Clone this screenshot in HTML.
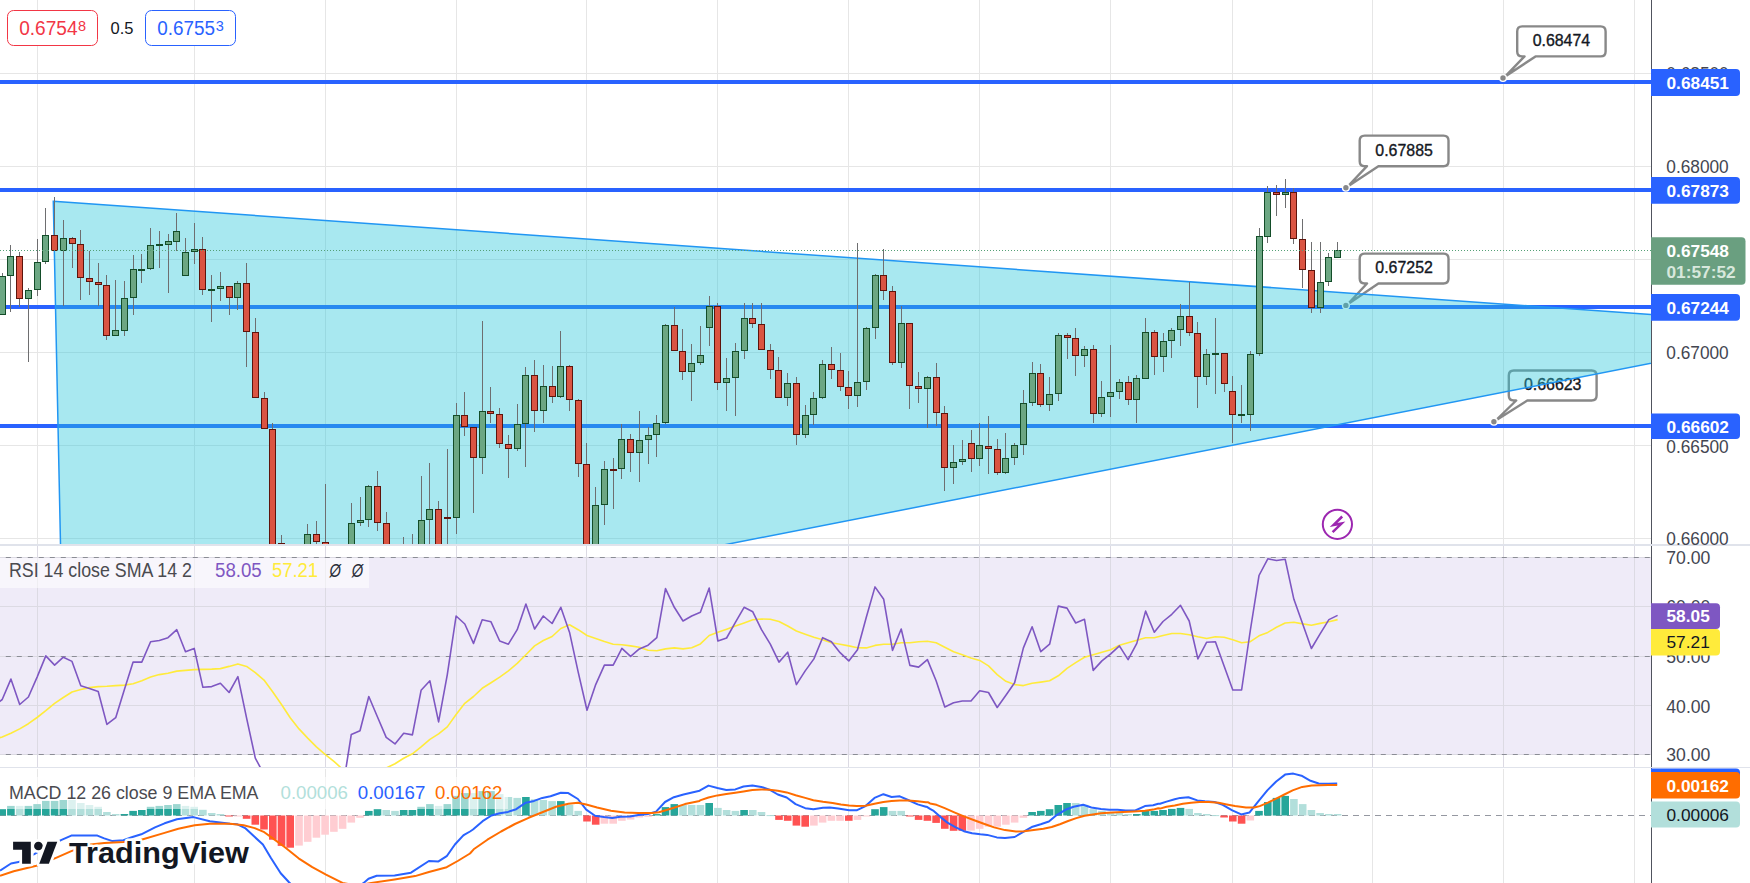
<!DOCTYPE html><html><head><meta charset="utf-8"><style>html,body{margin:0;padding:0;background:#fff;overflow:hidden}svg{display:block;font-family:"Liberation Sans",sans-serif}</style></head><body>
<svg width="1750" height="883" viewBox="0 0 1750 883">
<defs>
<clipPath id="cMain"><rect x="0" y="0" width="1651" height="544"/></clipPath>
<clipPath id="cRsi"><rect x="0" y="546" width="1651" height="221"/></clipPath>
<clipPath id="cMacd"><rect x="0" y="769" width="1651" height="114"/></clipPath>
</defs>
<rect width="1750" height="883" fill="#fff"/>
<g clip-path="url(#cMain)">
<line x1="37.5" y1="0" x2="37.5" y2="544" stroke="#e6e6e6" stroke-width="1"/>
<line x1="194.5" y1="0" x2="194.5" y2="544" stroke="#e6e6e6" stroke-width="1"/>
<line x1="325.5" y1="0" x2="325.5" y2="544" stroke="#e6e6e6" stroke-width="1"/>
<line x1="456.5" y1="0" x2="456.5" y2="544" stroke="#e6e6e6" stroke-width="1"/>
<line x1="586.5" y1="0" x2="586.5" y2="544" stroke="#e6e6e6" stroke-width="1"/>
<line x1="717.5" y1="0" x2="717.5" y2="544" stroke="#e6e6e6" stroke-width="1"/>
<line x1="848.5" y1="0" x2="848.5" y2="544" stroke="#e6e6e6" stroke-width="1"/>
<line x1="979.5" y1="0" x2="979.5" y2="544" stroke="#e6e6e6" stroke-width="1"/>
<line x1="1110.5" y1="0" x2="1110.5" y2="544" stroke="#e6e6e6" stroke-width="1"/>
<line x1="1232.5" y1="0" x2="1232.5" y2="544" stroke="#e6e6e6" stroke-width="1"/>
<line x1="1372.5" y1="0" x2="1372.5" y2="544" stroke="#e6e6e6" stroke-width="1"/>
<line x1="1503.5" y1="0" x2="1503.5" y2="544" stroke="#e6e6e6" stroke-width="1"/>
<line x1="1634.5" y1="0" x2="1634.5" y2="544" stroke="#e6e6e6" stroke-width="1"/>
<line x1="0" y1="73.5" x2="1651" y2="73.5" stroke="#e6e6e6" stroke-width="1"/>
<line x1="0" y1="166.5" x2="1651" y2="166.5" stroke="#e6e6e6" stroke-width="1"/>
<line x1="0" y1="259.5" x2="1651" y2="259.5" stroke="#e6e6e6" stroke-width="1"/>
<line x1="0" y1="352.5" x2="1651" y2="352.5" stroke="#e6e6e6" stroke-width="1"/>
<line x1="0" y1="445.5" x2="1651" y2="445.5" stroke="#e6e6e6" stroke-width="1"/>
<line x1="0" y1="538.5" x2="1651" y2="538.5" stroke="#e6e6e6" stroke-width="1"/>
<rect x="0" y="80" width="1651" height="4" fill="#2962ff"/>
<rect x="0" y="188" width="1651" height="4" fill="#2962ff"/>
<rect x="0" y="305" width="1651" height="4" fill="#2962ff"/>
<rect x="0" y="424" width="1651" height="4" fill="#2962ff"/>
<path d="M1522.2,26.4 H1600.6 Q1605.6,26.4 1605.6,31.4 V51.4 Q1605.6,56.4 1600.6,56.4 H1535.5 L1504.8,76.8 L1524.5,56.4 H1522.2 Q1517.2,56.4 1517.2,51.4 V31.4 Q1517.2,26.4 1522.2,26.4 Z" fill="#fff" stroke="#888" stroke-width="2.4" stroke-linejoin="round"/>
<circle cx="1503" cy="78" r="3.4" fill="#888" stroke="#fff" stroke-width="1.4"/>
<text x="1561.4" y="45.9" font-size="16.5" fill="#131722" stroke="#131722" stroke-width="0.35" text-anchor="middle" textLength="57.5" lengthAdjust="spacingAndGlyphs">0.68474</text>
<path d="M1364.7,135.6 H1443.5 Q1448.5,135.6 1448.5,140.6 V161.2 Q1448.5,166.2 1443.5,166.2 H1378.4 L1347.7,186.5 L1367,166.2 H1364.7 Q1359.7,166.2 1359.7,161.2 V140.6 Q1359.7,135.6 1364.7,135.6 Z" fill="#fff" stroke="#888" stroke-width="2.4" stroke-linejoin="round"/>
<circle cx="1345.9" cy="187.7" r="3.4" fill="#888" stroke="#fff" stroke-width="1.4"/>
<text x="1404.1" y="155.7" font-size="16.5" fill="#131722" stroke="#131722" stroke-width="0.35" text-anchor="middle" textLength="57.5" lengthAdjust="spacingAndGlyphs">0.67885</text>
<path d="M1364.7,253.6 H1443.5 Q1448.5,253.6 1448.5,258.6 V278.5 Q1448.5,283.5 1443.5,283.5 H1378.4 L1347.7,304.2 L1367,283.5 H1364.7 Q1359.7,283.5 1359.7,278.5 V258.6 Q1359.7,253.6 1364.7,253.6 Z" fill="#fff" stroke="#888" stroke-width="2.4" stroke-linejoin="round"/>
<circle cx="1345.9" cy="305.4" r="3.4" fill="#888" stroke="#fff" stroke-width="1.4"/>
<text x="1404.1" y="273.0" font-size="16.5" fill="#131722" stroke="#131722" stroke-width="0.35" text-anchor="middle" textLength="57.5" lengthAdjust="spacingAndGlyphs">0.67252</text>
<path d="M1513.8,370.5 H1591.6 Q1596.6,370.5 1596.6,375.5 V395.5 Q1596.6,400.5 1591.6,400.5 H1527.3 L1495.7,420.5 L1516.2,400.5 H1513.8 Q1508.8,400.5 1508.8,395.5 V375.5 Q1508.8,370.5 1513.8,370.5 Z" fill="#fff" stroke="#888" stroke-width="2.4" stroke-linejoin="round"/>
<circle cx="1493.9" cy="421.7" r="3.4" fill="#888" stroke="#fff" stroke-width="1.4"/>
<text x="1552.6999999999998" y="390.0" font-size="16.5" fill="#131722" stroke="#131722" stroke-width="0.35" text-anchor="middle" textLength="57.5" lengthAdjust="spacingAndGlyphs">0.66623</text>
<path d="M53.3,201.2 L1660,315.14 L1660,361.58 L63.24,674.32 Z" fill="rgba(38,198,218,0.40)" stroke="#2196f3" stroke-width="1.5" stroke-linejoin="miter"/>
<rect x="2" y="273" width="1" height="42" fill="#6e6e70"/>
<rect x="-0.5" y="276.5" width="6" height="38" fill="#6ca783" stroke="#134d29" stroke-width="1"/>
<rect x="10" y="245" width="1" height="67" fill="#6e6e70"/>
<rect x="7.5" y="256.5" width="6" height="19" fill="#6ca783" stroke="#134d29" stroke-width="1"/>
<rect x="19" y="252" width="1" height="55" fill="#6e6e70"/>
<rect x="16.5" y="256.5" width="6" height="42" fill="#da5442" stroke="#5e140c" stroke-width="1"/>
<rect x="28" y="288" width="1" height="74" fill="#6e6e70"/>
<rect x="25.5" y="290.5" width="6" height="8" fill="#6ca783" stroke="#134d29" stroke-width="1"/>
<rect x="37" y="239" width="1" height="57" fill="#6e6e70"/>
<rect x="34.5" y="262.5" width="6" height="27" fill="#6ca783" stroke="#134d29" stroke-width="1"/>
<rect x="45" y="208" width="1" height="56" fill="#6e6e70"/>
<rect x="42.5" y="235.5" width="6" height="26" fill="#6ca783" stroke="#134d29" stroke-width="1"/>
<rect x="54" y="197" width="1" height="54" fill="#6e6e70"/>
<rect x="51.5" y="235.5" width="6" height="15" fill="#da5442" stroke="#5e140c" stroke-width="1"/>
<rect x="63" y="220" width="1" height="86" fill="#6e6e70"/>
<rect x="60.5" y="238.5" width="6" height="12" fill="#6ca783" stroke="#134d29" stroke-width="1"/>
<rect x="72" y="237" width="1" height="31" fill="#6e6e70"/>
<rect x="69.5" y="238.5" width="6" height="5" fill="#da5442" stroke="#5e140c" stroke-width="1"/>
<rect x="80" y="230" width="1" height="70" fill="#6e6e70"/>
<rect x="77.5" y="244.5" width="6" height="33" fill="#da5442" stroke="#5e140c" stroke-width="1"/>
<rect x="89" y="251" width="1" height="44" fill="#6e6e70"/>
<rect x="86.5" y="278.5" width="6" height="3" fill="#da5442" stroke="#5e140c" stroke-width="1"/>
<rect x="98" y="263" width="1" height="43" fill="#6e6e70"/>
<rect x="95.5" y="282.5" width="6" height="2" fill="#da5442" stroke="#5e140c" stroke-width="1"/>
<rect x="106" y="275" width="1" height="65" fill="#6e6e70"/>
<rect x="103.5" y="285.5" width="6" height="50" fill="#da5442" stroke="#5e140c" stroke-width="1"/>
<rect x="115" y="280" width="1" height="56" fill="#6e6e70"/>
<rect x="112.5" y="330.5" width="6" height="5" fill="#6ca783" stroke="#134d29" stroke-width="1"/>
<rect x="124" y="281" width="1" height="55" fill="#6e6e70"/>
<rect x="121.5" y="298.5" width="6" height="32" fill="#6ca783" stroke="#134d29" stroke-width="1"/>
<rect x="133" y="255" width="1" height="60" fill="#6e6e70"/>
<rect x="130.5" y="269.5" width="6" height="28" fill="#6ca783" stroke="#134d29" stroke-width="1"/>
<rect x="141" y="254" width="1" height="29" fill="#6e6e70"/>
<rect x="138" y="269" width="7" height="2" fill="#134d29"/>
<rect x="150" y="228" width="1" height="42" fill="#6e6e70"/>
<rect x="147.5" y="245.5" width="6" height="23" fill="#6ca783" stroke="#134d29" stroke-width="1"/>
<rect x="159" y="231" width="1" height="37" fill="#6e6e70"/>
<rect x="156" y="244" width="7" height="2" fill="#134d29"/>
<rect x="168" y="234" width="1" height="59" fill="#6e6e70"/>
<rect x="165.5" y="241.5" width="6" height="3" fill="#6ca783" stroke="#134d29" stroke-width="1"/>
<rect x="176" y="213" width="1" height="38" fill="#6e6e70"/>
<rect x="173.5" y="231.5" width="6" height="10" fill="#6ca783" stroke="#134d29" stroke-width="1"/>
<rect x="185" y="238" width="1" height="38" fill="#6e6e70"/>
<rect x="182.5" y="252.5" width="6" height="23" fill="#6ca783" stroke="#134d29" stroke-width="1"/>
<rect x="194" y="223" width="1" height="41" fill="#6e6e70"/>
<rect x="191.5" y="249.5" width="6" height="2" fill="#6ca783" stroke="#134d29" stroke-width="1"/>
<rect x="202" y="237" width="1" height="58" fill="#6e6e70"/>
<rect x="199.5" y="249.5" width="6" height="40" fill="#da5442" stroke="#5e140c" stroke-width="1"/>
<rect x="211" y="275" width="1" height="47" fill="#6e6e70"/>
<rect x="208" y="289" width="7" height="2" fill="#134d29"/>
<rect x="220" y="272" width="1" height="29" fill="#6e6e70"/>
<rect x="217.5" y="286.5" width="6" height="2" fill="#6ca783" stroke="#134d29" stroke-width="1"/>
<rect x="229" y="286" width="1" height="29" fill="#6e6e70"/>
<rect x="226.5" y="286.5" width="6" height="11" fill="#da5442" stroke="#5e140c" stroke-width="1"/>
<rect x="237" y="281" width="1" height="29" fill="#6e6e70"/>
<rect x="234.5" y="283.5" width="6" height="14" fill="#6ca783" stroke="#134d29" stroke-width="1"/>
<rect x="246" y="263" width="1" height="104" fill="#6e6e70"/>
<rect x="243.5" y="283.5" width="6" height="48" fill="#da5442" stroke="#5e140c" stroke-width="1"/>
<rect x="255" y="318" width="1" height="80" fill="#6e6e70"/>
<rect x="252.5" y="332.5" width="6" height="65" fill="#da5442" stroke="#5e140c" stroke-width="1"/>
<rect x="264" y="392" width="1" height="37" fill="#6e6e70"/>
<rect x="261.5" y="398.5" width="6" height="30" fill="#da5442" stroke="#5e140c" stroke-width="1"/>
<rect x="272" y="423" width="1" height="128" fill="#6e6e70"/>
<rect x="269.5" y="429.5" width="6" height="121" fill="#da5442" stroke="#5e140c" stroke-width="1"/>
<rect x="281" y="535" width="1" height="16" fill="#6e6e70"/>
<rect x="278.5" y="543.5" width="6" height="7" fill="#da5442" stroke="#5e140c" stroke-width="1"/>
<rect x="307" y="524" width="1" height="27" fill="#6e6e70"/>
<rect x="304.5" y="534.5" width="6" height="16" fill="#6ca783" stroke="#134d29" stroke-width="1"/>
<rect x="316" y="521" width="1" height="30" fill="#6e6e70"/>
<rect x="313.5" y="534.5" width="6" height="7" fill="#da5442" stroke="#5e140c" stroke-width="1"/>
<rect x="325" y="484" width="1" height="67" fill="#6e6e70"/>
<rect x="322.5" y="542.5" width="6" height="8" fill="#da5442" stroke="#5e140c" stroke-width="1"/>
<rect x="351" y="503" width="1" height="46" fill="#6e6e70"/>
<rect x="348.5" y="523.5" width="6" height="25" fill="#6ca783" stroke="#134d29" stroke-width="1"/>
<rect x="360" y="497" width="1" height="29" fill="#6e6e70"/>
<rect x="357.5" y="520.5" width="6" height="2" fill="#6ca783" stroke="#134d29" stroke-width="1"/>
<rect x="368" y="485" width="1" height="42" fill="#6e6e70"/>
<rect x="365.5" y="486.5" width="6" height="33" fill="#6ca783" stroke="#134d29" stroke-width="1"/>
<rect x="377" y="471" width="1" height="60" fill="#6e6e70"/>
<rect x="374.5" y="486.5" width="6" height="36" fill="#da5442" stroke="#5e140c" stroke-width="1"/>
<rect x="386" y="512" width="1" height="37" fill="#6e6e70"/>
<rect x="383.5" y="523.5" width="6" height="25" fill="#da5442" stroke="#5e140c" stroke-width="1"/>
<rect x="403" y="537" width="1" height="12" fill="#6e6e70"/>
<rect x="400" y="549" width="7" height="2" fill="#5e140c"/>
<rect x="412" y="534" width="1" height="15" fill="#6e6e70"/>
<rect x="409" y="549" width="7" height="2" fill="#5e140c"/>
<rect x="421" y="476" width="1" height="73" fill="#6e6e70"/>
<rect x="418.5" y="520.5" width="6" height="28" fill="#6ca783" stroke="#134d29" stroke-width="1"/>
<rect x="429" y="463" width="1" height="86" fill="#6e6e70"/>
<rect x="426.5" y="509.5" width="6" height="10" fill="#6ca783" stroke="#134d29" stroke-width="1"/>
<rect x="438" y="501" width="1" height="48" fill="#6e6e70"/>
<rect x="435.5" y="509.5" width="6" height="39" fill="#da5442" stroke="#5e140c" stroke-width="1"/>
<rect x="447" y="449" width="1" height="100" fill="#6e6e70"/>
<rect x="444" y="517" width="7" height="2" fill="#5e140c"/>
<rect x="456" y="403" width="1" height="131" fill="#6e6e70"/>
<rect x="453.5" y="415.5" width="6" height="102" fill="#6ca783" stroke="#134d29" stroke-width="1"/>
<rect x="464" y="392" width="1" height="44" fill="#6e6e70"/>
<rect x="461.5" y="415.5" width="6" height="11" fill="#da5442" stroke="#5e140c" stroke-width="1"/>
<rect x="473" y="427" width="1" height="86" fill="#6e6e70"/>
<rect x="470.5" y="427.5" width="6" height="30" fill="#da5442" stroke="#5e140c" stroke-width="1"/>
<rect x="482" y="321" width="1" height="153" fill="#6e6e70"/>
<rect x="479.5" y="411.5" width="6" height="46" fill="#6ca783" stroke="#134d29" stroke-width="1"/>
<rect x="490" y="387" width="1" height="36" fill="#6e6e70"/>
<rect x="487.5" y="411.5" width="6" height="2" fill="#da5442" stroke="#5e140c" stroke-width="1"/>
<rect x="499" y="408" width="1" height="40" fill="#6e6e70"/>
<rect x="496.5" y="414.5" width="6" height="29" fill="#da5442" stroke="#5e140c" stroke-width="1"/>
<rect x="508" y="435" width="1" height="43" fill="#6e6e70"/>
<rect x="505.5" y="444.5" width="6" height="4" fill="#da5442" stroke="#5e140c" stroke-width="1"/>
<rect x="517" y="404" width="1" height="47" fill="#6e6e70"/>
<rect x="514.5" y="424.5" width="6" height="24" fill="#6ca783" stroke="#134d29" stroke-width="1"/>
<rect x="525" y="367" width="1" height="100" fill="#6e6e70"/>
<rect x="522.5" y="375.5" width="6" height="48" fill="#6ca783" stroke="#134d29" stroke-width="1"/>
<rect x="534" y="360" width="1" height="72" fill="#6e6e70"/>
<rect x="531.5" y="375.5" width="6" height="35" fill="#da5442" stroke="#5e140c" stroke-width="1"/>
<rect x="543" y="365" width="1" height="58" fill="#6e6e70"/>
<rect x="540.5" y="386.5" width="6" height="24" fill="#6ca783" stroke="#134d29" stroke-width="1"/>
<rect x="552" y="366" width="1" height="37" fill="#6e6e70"/>
<rect x="549.5" y="386.5" width="6" height="10" fill="#da5442" stroke="#5e140c" stroke-width="1"/>
<rect x="560" y="331" width="1" height="67" fill="#6e6e70"/>
<rect x="557.5" y="366.5" width="6" height="30" fill="#6ca783" stroke="#134d29" stroke-width="1"/>
<rect x="569" y="365" width="1" height="46" fill="#6e6e70"/>
<rect x="566.5" y="366.5" width="6" height="33" fill="#da5442" stroke="#5e140c" stroke-width="1"/>
<rect x="578" y="399" width="1" height="78" fill="#6e6e70"/>
<rect x="575.5" y="400.5" width="6" height="63" fill="#da5442" stroke="#5e140c" stroke-width="1"/>
<rect x="586" y="443" width="1" height="107" fill="#6e6e70"/>
<rect x="583.5" y="464.5" width="6" height="85" fill="#da5442" stroke="#5e140c" stroke-width="1"/>
<rect x="595" y="487" width="1" height="63" fill="#6e6e70"/>
<rect x="592.5" y="505.5" width="6" height="44" fill="#6ca783" stroke="#134d29" stroke-width="1"/>
<rect x="604" y="461" width="1" height="64" fill="#6e6e70"/>
<rect x="601.5" y="469.5" width="6" height="35" fill="#6ca783" stroke="#134d29" stroke-width="1"/>
<rect x="613" y="458" width="1" height="51" fill="#6e6e70"/>
<rect x="610" y="469" width="7" height="2" fill="#5e140c"/>
<rect x="621" y="424" width="1" height="55" fill="#6e6e70"/>
<rect x="618.5" y="439.5" width="6" height="29" fill="#6ca783" stroke="#134d29" stroke-width="1"/>
<rect x="630" y="434" width="1" height="38" fill="#6e6e70"/>
<rect x="627.5" y="439.5" width="6" height="13" fill="#da5442" stroke="#5e140c" stroke-width="1"/>
<rect x="639" y="411" width="1" height="71" fill="#6e6e70"/>
<rect x="636.5" y="440.5" width="6" height="12" fill="#6ca783" stroke="#134d29" stroke-width="1"/>
<rect x="648" y="427" width="1" height="37" fill="#6e6e70"/>
<rect x="645.5" y="435.5" width="6" height="4" fill="#6ca783" stroke="#134d29" stroke-width="1"/>
<rect x="656" y="415" width="1" height="42" fill="#6e6e70"/>
<rect x="653.5" y="423.5" width="6" height="11" fill="#6ca783" stroke="#134d29" stroke-width="1"/>
<rect x="665" y="324" width="1" height="100" fill="#6e6e70"/>
<rect x="662.5" y="325.5" width="6" height="97" fill="#6ca783" stroke="#134d29" stroke-width="1"/>
<rect x="674" y="307" width="1" height="44" fill="#6e6e70"/>
<rect x="671.5" y="325.5" width="6" height="25" fill="#da5442" stroke="#5e140c" stroke-width="1"/>
<rect x="682" y="329" width="1" height="51" fill="#6e6e70"/>
<rect x="679.5" y="351.5" width="6" height="20" fill="#da5442" stroke="#5e140c" stroke-width="1"/>
<rect x="691" y="344" width="1" height="57" fill="#6e6e70"/>
<rect x="688.5" y="363.5" width="6" height="8" fill="#6ca783" stroke="#134d29" stroke-width="1"/>
<rect x="700" y="326" width="1" height="39" fill="#6e6e70"/>
<rect x="697.5" y="355.5" width="6" height="7" fill="#6ca783" stroke="#134d29" stroke-width="1"/>
<rect x="709" y="296" width="1" height="50" fill="#6e6e70"/>
<rect x="706.5" y="306.5" width="6" height="21" fill="#6ca783" stroke="#134d29" stroke-width="1"/>
<rect x="717" y="303" width="1" height="87" fill="#6e6e70"/>
<rect x="714.5" y="306.5" width="6" height="76" fill="#da5442" stroke="#5e140c" stroke-width="1"/>
<rect x="726" y="358" width="1" height="53" fill="#6e6e70"/>
<rect x="723.5" y="378.5" width="6" height="4" fill="#6ca783" stroke="#134d29" stroke-width="1"/>
<rect x="735" y="343" width="1" height="73" fill="#6e6e70"/>
<rect x="732.5" y="351.5" width="6" height="26" fill="#6ca783" stroke="#134d29" stroke-width="1"/>
<rect x="744" y="303" width="1" height="56" fill="#6e6e70"/>
<rect x="741.5" y="318.5" width="6" height="32" fill="#6ca783" stroke="#134d29" stroke-width="1"/>
<rect x="752" y="303" width="1" height="25" fill="#6e6e70"/>
<rect x="749.5" y="318.5" width="6" height="5" fill="#da5442" stroke="#5e140c" stroke-width="1"/>
<rect x="761" y="303" width="1" height="47" fill="#6e6e70"/>
<rect x="758.5" y="324.5" width="6" height="25" fill="#da5442" stroke="#5e140c" stroke-width="1"/>
<rect x="770" y="344" width="1" height="35" fill="#6e6e70"/>
<rect x="767.5" y="350.5" width="6" height="19" fill="#da5442" stroke="#5e140c" stroke-width="1"/>
<rect x="778" y="357" width="1" height="41" fill="#6e6e70"/>
<rect x="775.5" y="370.5" width="6" height="27" fill="#da5442" stroke="#5e140c" stroke-width="1"/>
<rect x="787" y="373" width="1" height="33" fill="#6e6e70"/>
<rect x="784.5" y="383.5" width="6" height="14" fill="#6ca783" stroke="#134d29" stroke-width="1"/>
<rect x="796" y="377" width="1" height="68" fill="#6e6e70"/>
<rect x="793.5" y="383.5" width="6" height="51" fill="#da5442" stroke="#5e140c" stroke-width="1"/>
<rect x="805" y="405" width="1" height="33" fill="#6e6e70"/>
<rect x="802.5" y="415.5" width="6" height="19" fill="#6ca783" stroke="#134d29" stroke-width="1"/>
<rect x="813" y="392" width="1" height="33" fill="#6e6e70"/>
<rect x="810.5" y="398.5" width="6" height="16" fill="#6ca783" stroke="#134d29" stroke-width="1"/>
<rect x="822" y="360" width="1" height="39" fill="#6e6e70"/>
<rect x="819.5" y="364.5" width="6" height="33" fill="#6ca783" stroke="#134d29" stroke-width="1"/>
<rect x="831" y="347" width="1" height="32" fill="#6e6e70"/>
<rect x="828.5" y="364.5" width="6" height="5" fill="#da5442" stroke="#5e140c" stroke-width="1"/>
<rect x="840" y="353" width="1" height="38" fill="#6e6e70"/>
<rect x="837.5" y="370.5" width="6" height="16" fill="#da5442" stroke="#5e140c" stroke-width="1"/>
<rect x="848" y="371" width="1" height="38" fill="#6e6e70"/>
<rect x="845.5" y="387.5" width="6" height="8" fill="#da5442" stroke="#5e140c" stroke-width="1"/>
<rect x="857" y="243" width="1" height="164" fill="#6e6e70"/>
<rect x="854.5" y="382.5" width="6" height="13" fill="#6ca783" stroke="#134d29" stroke-width="1"/>
<rect x="866" y="327" width="1" height="63" fill="#6e6e70"/>
<rect x="863.5" y="328.5" width="6" height="53" fill="#6ca783" stroke="#134d29" stroke-width="1"/>
<rect x="875" y="274" width="1" height="65" fill="#6e6e70"/>
<rect x="872.5" y="275.5" width="6" height="52" fill="#6ca783" stroke="#134d29" stroke-width="1"/>
<rect x="883" y="249" width="1" height="51" fill="#6e6e70"/>
<rect x="880.5" y="275.5" width="6" height="15" fill="#da5442" stroke="#5e140c" stroke-width="1"/>
<rect x="892" y="286" width="1" height="79" fill="#6e6e70"/>
<rect x="889.5" y="291.5" width="6" height="71" fill="#da5442" stroke="#5e140c" stroke-width="1"/>
<rect x="901" y="306" width="1" height="62" fill="#6e6e70"/>
<rect x="898.5" y="323.5" width="6" height="39" fill="#6ca783" stroke="#134d29" stroke-width="1"/>
<rect x="909" y="323" width="1" height="86" fill="#6e6e70"/>
<rect x="906.5" y="323.5" width="6" height="62" fill="#da5442" stroke="#5e140c" stroke-width="1"/>
<rect x="918" y="372" width="1" height="31" fill="#6e6e70"/>
<rect x="915.5" y="386.5" width="6" height="2" fill="#da5442" stroke="#5e140c" stroke-width="1"/>
<rect x="927" y="376" width="1" height="52" fill="#6e6e70"/>
<rect x="924.5" y="377.5" width="6" height="11" fill="#6ca783" stroke="#134d29" stroke-width="1"/>
<rect x="936" y="363" width="1" height="63" fill="#6e6e70"/>
<rect x="933.5" y="377.5" width="6" height="35" fill="#da5442" stroke="#5e140c" stroke-width="1"/>
<rect x="944" y="406" width="1" height="85" fill="#6e6e70"/>
<rect x="941.5" y="413.5" width="6" height="54" fill="#da5442" stroke="#5e140c" stroke-width="1"/>
<rect x="953" y="445" width="1" height="39" fill="#6e6e70"/>
<rect x="950.5" y="462.5" width="6" height="5" fill="#6ca783" stroke="#134d29" stroke-width="1"/>
<rect x="962" y="440" width="1" height="25" fill="#6e6e70"/>
<rect x="959.5" y="459.5" width="6" height="2" fill="#6ca783" stroke="#134d29" stroke-width="1"/>
<rect x="971" y="430" width="1" height="42" fill="#6e6e70"/>
<rect x="968.5" y="443.5" width="6" height="15" fill="#da5442" stroke="#5e140c" stroke-width="1"/>
<rect x="979" y="423" width="1" height="43" fill="#6e6e70"/>
<rect x="976.5" y="445.5" width="6" height="13" fill="#6ca783" stroke="#134d29" stroke-width="1"/>
<rect x="988" y="416" width="1" height="58" fill="#6e6e70"/>
<rect x="985.5" y="446.5" width="6" height="2" fill="#da5442" stroke="#5e140c" stroke-width="1"/>
<rect x="997" y="439" width="1" height="36" fill="#6e6e70"/>
<rect x="994.5" y="449.5" width="6" height="23" fill="#da5442" stroke="#5e140c" stroke-width="1"/>
<rect x="1005" y="433" width="1" height="41" fill="#6e6e70"/>
<rect x="1002.5" y="458.5" width="6" height="14" fill="#6ca783" stroke="#134d29" stroke-width="1"/>
<rect x="1014" y="443" width="1" height="22" fill="#6e6e70"/>
<rect x="1011.5" y="445.5" width="6" height="12" fill="#6ca783" stroke="#134d29" stroke-width="1"/>
<rect x="1023" y="390" width="1" height="65" fill="#6e6e70"/>
<rect x="1020.5" y="403.5" width="6" height="41" fill="#6ca783" stroke="#134d29" stroke-width="1"/>
<rect x="1032" y="362" width="1" height="44" fill="#6e6e70"/>
<rect x="1029.5" y="373.5" width="6" height="29" fill="#6ca783" stroke="#134d29" stroke-width="1"/>
<rect x="1040" y="364" width="1" height="43" fill="#6e6e70"/>
<rect x="1037.5" y="373.5" width="6" height="31" fill="#da5442" stroke="#5e140c" stroke-width="1"/>
<rect x="1049" y="377" width="1" height="34" fill="#6e6e70"/>
<rect x="1046.5" y="394.5" width="6" height="10" fill="#6ca783" stroke="#134d29" stroke-width="1"/>
<rect x="1058" y="333" width="1" height="68" fill="#6e6e70"/>
<rect x="1055.5" y="335.5" width="6" height="58" fill="#6ca783" stroke="#134d29" stroke-width="1"/>
<rect x="1067" y="333" width="1" height="26" fill="#6e6e70"/>
<rect x="1064.5" y="335.5" width="6" height="2" fill="#da5442" stroke="#5e140c" stroke-width="1"/>
<rect x="1075" y="328" width="1" height="48" fill="#6e6e70"/>
<rect x="1072.5" y="338.5" width="6" height="17" fill="#da5442" stroke="#5e140c" stroke-width="1"/>
<rect x="1084" y="346" width="1" height="21" fill="#6e6e70"/>
<rect x="1081.5" y="349.5" width="6" height="6" fill="#6ca783" stroke="#134d29" stroke-width="1"/>
<rect x="1093" y="345" width="1" height="78" fill="#6e6e70"/>
<rect x="1090.5" y="349.5" width="6" height="64" fill="#da5442" stroke="#5e140c" stroke-width="1"/>
<rect x="1101" y="381" width="1" height="36" fill="#6e6e70"/>
<rect x="1098.5" y="397.5" width="6" height="16" fill="#6ca783" stroke="#134d29" stroke-width="1"/>
<rect x="1110" y="345" width="1" height="72" fill="#6e6e70"/>
<rect x="1107.5" y="392.5" width="6" height="4" fill="#6ca783" stroke="#134d29" stroke-width="1"/>
<rect x="1119" y="379" width="1" height="20" fill="#6e6e70"/>
<rect x="1116.5" y="382.5" width="6" height="9" fill="#6ca783" stroke="#134d29" stroke-width="1"/>
<rect x="1128" y="376" width="1" height="29" fill="#6e6e70"/>
<rect x="1125.5" y="382.5" width="6" height="17" fill="#da5442" stroke="#5e140c" stroke-width="1"/>
<rect x="1136" y="375" width="1" height="48" fill="#6e6e70"/>
<rect x="1133.5" y="378.5" width="6" height="21" fill="#6ca783" stroke="#134d29" stroke-width="1"/>
<rect x="1145" y="318" width="1" height="61" fill="#6e6e70"/>
<rect x="1142.5" y="332.5" width="6" height="46" fill="#6ca783" stroke="#134d29" stroke-width="1"/>
<rect x="1154" y="330" width="1" height="45" fill="#6e6e70"/>
<rect x="1151.5" y="332.5" width="6" height="24" fill="#da5442" stroke="#5e140c" stroke-width="1"/>
<rect x="1163" y="333" width="1" height="39" fill="#6e6e70"/>
<rect x="1160.5" y="341.5" width="6" height="15" fill="#6ca783" stroke="#134d29" stroke-width="1"/>
<rect x="1171" y="328" width="1" height="30" fill="#6e6e70"/>
<rect x="1168.5" y="330.5" width="6" height="10" fill="#6ca783" stroke="#134d29" stroke-width="1"/>
<rect x="1180" y="304" width="1" height="42" fill="#6e6e70"/>
<rect x="1177.5" y="316.5" width="6" height="13" fill="#6ca783" stroke="#134d29" stroke-width="1"/>
<rect x="1189" y="282" width="1" height="54" fill="#6e6e70"/>
<rect x="1186.5" y="316.5" width="6" height="16" fill="#da5442" stroke="#5e140c" stroke-width="1"/>
<rect x="1197" y="322" width="1" height="86" fill="#6e6e70"/>
<rect x="1194.5" y="333.5" width="6" height="43" fill="#da5442" stroke="#5e140c" stroke-width="1"/>
<rect x="1206" y="349" width="1" height="36" fill="#6e6e70"/>
<rect x="1203.5" y="354.5" width="6" height="22" fill="#6ca783" stroke="#134d29" stroke-width="1"/>
<rect x="1215" y="318" width="1" height="76" fill="#6e6e70"/>
<rect x="1212" y="353" width="7" height="2" fill="#134d29"/>
<rect x="1224" y="353" width="1" height="39" fill="#6e6e70"/>
<rect x="1221.5" y="353.5" width="6" height="30" fill="#da5442" stroke="#5e140c" stroke-width="1"/>
<rect x="1232" y="376" width="1" height="67" fill="#6e6e70"/>
<rect x="1229.5" y="391.5" width="6" height="23" fill="#da5442" stroke="#5e140c" stroke-width="1"/>
<rect x="1241" y="385" width="1" height="38" fill="#6e6e70"/>
<rect x="1238" y="414" width="7" height="2" fill="#134d29"/>
<rect x="1250" y="351" width="1" height="80" fill="#6e6e70"/>
<rect x="1247.5" y="354.5" width="6" height="60" fill="#6ca783" stroke="#134d29" stroke-width="1"/>
<rect x="1259" y="228" width="1" height="128" fill="#6e6e70"/>
<rect x="1256.5" y="236.5" width="6" height="117" fill="#6ca783" stroke="#134d29" stroke-width="1"/>
<rect x="1267" y="186" width="1" height="57" fill="#6e6e70"/>
<rect x="1264.5" y="192.5" width="6" height="44" fill="#6ca783" stroke="#134d29" stroke-width="1"/>
<rect x="1276" y="185" width="1" height="31" fill="#6e6e70"/>
<rect x="1273.5" y="192.5" width="6" height="2" fill="#da5442" stroke="#5e140c" stroke-width="1"/>
<rect x="1285" y="179" width="1" height="29" fill="#6e6e70"/>
<rect x="1282.5" y="192.5" width="6" height="2" fill="#6ca783" stroke="#134d29" stroke-width="1"/>
<rect x="1293" y="188" width="1" height="56" fill="#6e6e70"/>
<rect x="1290.5" y="192.5" width="6" height="46" fill="#da5442" stroke="#5e140c" stroke-width="1"/>
<rect x="1302" y="219" width="1" height="69" fill="#6e6e70"/>
<rect x="1299.5" y="239.5" width="6" height="30" fill="#da5442" stroke="#5e140c" stroke-width="1"/>
<rect x="1311" y="242" width="1" height="71" fill="#6e6e70"/>
<rect x="1308.5" y="270.5" width="6" height="37" fill="#da5442" stroke="#5e140c" stroke-width="1"/>
<rect x="1320" y="242" width="1" height="71" fill="#6e6e70"/>
<rect x="1317.5" y="282.5" width="6" height="25" fill="#6ca783" stroke="#134d29" stroke-width="1"/>
<rect x="1328" y="253" width="1" height="33" fill="#6e6e70"/>
<rect x="1325.5" y="257.5" width="6" height="24" fill="#6ca783" stroke="#134d29" stroke-width="1"/>
<rect x="1337" y="242" width="1" height="16" fill="#6e6e70"/>
<rect x="1334.5" y="250.5" width="6" height="7" fill="#6ca783" stroke="#134d29" stroke-width="1"/>
<line x1="0" y1="250.5" x2="1651" y2="250.5" stroke="#55a077" stroke-width="1" stroke-dasharray="1 2"/>
<g transform="translate(1337.4,524.3)"><circle r="14.6" fill="#fff" stroke="#9c27b0" stroke-width="2"/><path d="M4.8,-7.8 L-3.9,0.75 L4.1,-0.75 L-4.8,7.8" fill="none" stroke="#9c27b0" stroke-width="2.5" stroke-linejoin="miter" stroke-miterlimit="8"/></g>
</g>
<rect x="7.5" y="10.5" width="90" height="35" rx="6" fill="#fff" stroke="#f23645" stroke-width="1"/>
<text x="19.2" y="35" font-size="19.5" fill="#f23645" textLength="58.3" lengthAdjust="spacingAndGlyphs">0.6754</text>
<text x="78" y="30.6" font-size="14.5" fill="#f23645">8</text>
<text x="110.5" y="33.9" font-size="16.5" fill="#131722">0.5</text>
<rect x="145.5" y="10.5" width="90" height="35" rx="6" fill="#fff" stroke="#2962ff" stroke-width="1"/>
<text x="157.3" y="35" font-size="19.5" fill="#2962ff" textLength="57.8" lengthAdjust="spacingAndGlyphs">0.6755</text>
<text x="215.8" y="30.6" font-size="14.5" fill="#2962ff">3</text>
<rect x="0" y="544" width="1750" height="2" fill="#e0e3eb"/>
<rect x="0" y="767" width="1750" height="1" fill="#e0e3eb"/>
<g clip-path="url(#cRsi)">
<rect x="0" y="557" width="1651" height="197.5" fill="#efebf8"/>
<line x1="37.5" y1="546" x2="37.5" y2="767" stroke="#dcdae3" stroke-width="1"/>
<line x1="194.5" y1="546" x2="194.5" y2="767" stroke="#dcdae3" stroke-width="1"/>
<line x1="325.5" y1="546" x2="325.5" y2="767" stroke="#dcdae3" stroke-width="1"/>
<line x1="456.5" y1="546" x2="456.5" y2="767" stroke="#dcdae3" stroke-width="1"/>
<line x1="586.5" y1="546" x2="586.5" y2="767" stroke="#dcdae3" stroke-width="1"/>
<line x1="717.5" y1="546" x2="717.5" y2="767" stroke="#dcdae3" stroke-width="1"/>
<line x1="848.5" y1="546" x2="848.5" y2="767" stroke="#dcdae3" stroke-width="1"/>
<line x1="979.5" y1="546" x2="979.5" y2="767" stroke="#dcdae3" stroke-width="1"/>
<line x1="1110.5" y1="546" x2="1110.5" y2="767" stroke="#dcdae3" stroke-width="1"/>
<line x1="1232.5" y1="546" x2="1232.5" y2="767" stroke="#dcdae3" stroke-width="1"/>
<line x1="1372.5" y1="546" x2="1372.5" y2="767" stroke="#dcdae3" stroke-width="1"/>
<line x1="1503.5" y1="546" x2="1503.5" y2="767" stroke="#dcdae3" stroke-width="1"/>
<line x1="1634.5" y1="546" x2="1634.5" y2="767" stroke="#dcdae3" stroke-width="1"/>
<line x1="0" y1="557.5" x2="1651" y2="557.5" stroke="#dcdae3" stroke-width="1"/>
<line x1="0" y1="606.5" x2="1651" y2="606.5" stroke="#dcdae3" stroke-width="1"/>
<line x1="0" y1="656.5" x2="1651" y2="656.5" stroke="#dcdae3" stroke-width="1"/>
<line x1="0" y1="705.5" x2="1651" y2="705.5" stroke="#dcdae3" stroke-width="1"/>
<line x1="0" y1="754.5" x2="1651" y2="754.5" stroke="#dcdae3" stroke-width="1"/>
<line x1="0" y1="557.5" x2="1651" y2="557.5" stroke="#8b8d95" stroke-width="1.1" stroke-dasharray="5 6" stroke-dashoffset="5.2"/>
<line x1="0" y1="656.5" x2="1651" y2="656.5" stroke="#8b8d95" stroke-width="1.1" stroke-dasharray="5 6" stroke-dashoffset="5.2"/>
<line x1="0" y1="754.5" x2="1651" y2="754.5" stroke="#8b8d95" stroke-width="1.1" stroke-dasharray="5 6" stroke-dashoffset="5.2"/>
<polyline points="-2,738.4 2.2,736.9 10.9,733.2 19.7,728.9 28.4,723.7 37.1,717.5 45.8,710.7 54.6,703.3 63.3,697.5 72.0,692.0 80.8,689.5 89.5,687.6 98.2,686.6 106.9,686.3 115.7,685.6 124.4,685.1 133.1,683.8 141.8,680.8 150.6,677.1 159.3,674.6 168.0,673.3 176.8,671.1 185.5,670.4 194.2,669.6 202.9,669.4 211.7,669.1 220.4,668.6 229.1,666.4 237.9,663.9 246.6,666.4 255.3,672.6 264.0,680.1 272.8,692.0 281.5,704.5 290.2,717.7 299.0,728.9 307.7,738.1 316.4,746.9 325.1,754.3 333.9,761.3 342.6,769.3 351.3,775.5 360.0,778.8 368.8,776.8 377.5,773.0 386.2,768.0 395.0,763.8 403.7,758.3 412.4,753.8 421.1,746.9 429.9,739.4 438.6,733.9 447.3,726.9 456.1,714.5 464.8,703.3 473.5,696.5 482.2,688.3 491.0,682.8 499.7,677.1 508.4,670.9 517.2,663.4 525.9,654.7 534.6,645.9 543.3,640.5 552.1,636.5 560.8,628.5 569.5,624.8 578.2,629.7 587.0,635.5 595.7,638.5 604.4,641.5 613.2,644.2 621.9,644.7 630.6,645.9 639.3,647.2 648.1,650.2 656.8,650.7 665.5,648.9 674.3,647.9 683.0,648.9 691.7,647.7 700.4,643.9 709.2,635.5 717.9,632.2 726.6,629.2 735.4,626.0 744.1,623.0 752.8,619.8 761.5,619.0 770.3,619.3 779.0,621.5 787.7,626.0 796.4,631.0 805.2,634.2 813.9,637.2 822.6,639.7 831.4,642.7 840.1,644.2 848.8,645.9 857.5,647.7 866.3,647.9 875.0,645.4 883.7,644.2 892.5,644.2 901.2,642.7 909.9,642.7 918.6,641.7 927.4,641.2 936.1,642.7 944.8,647.2 953.6,651.7 962.3,654.7 971.0,657.9 979.7,660.4 988.5,665.9 997.2,674.6 1005.9,681.3 1014.6,684.6 1023.4,685.6 1032.1,683.3 1040.8,682.1 1049.6,680.8 1058.3,675.8 1067.0,668.4 1075.7,662.6 1084.5,657.2 1093.2,654.7 1101.9,652.2 1110.7,649.7 1119.4,645.2 1128.1,642.7 1136.8,640.2 1145.6,637.7 1154.3,637.7 1163.0,635.5 1171.8,633.5 1180.5,633.5 1189.2,634.7 1197.9,636.7 1206.7,638.5 1215.4,636.7 1224.1,637.2 1232.8,639.7 1241.6,642.7 1250.3,641.7 1259.0,635.8 1267.8,632.4 1276.5,627.3 1285.2,623.0 1293.9,622.2 1302.7,623.9 1311.4,625.2 1320.1,623.4 1328.9,621.7 1337.6,619.6" fill="none" stroke="#ffeb3b" stroke-width="1.6" stroke-linejoin="round"/>
<polyline points="-3,703.5 2.2,699.5 10.9,679.1 19.7,704.5 28.4,697.0 37.1,677.1 45.8,655.9 54.6,665.1 63.3,657.2 72.0,661.4 80.8,685.8 89.5,688.5 98.2,691.5 106.9,724.4 115.7,717.7 124.4,689.5 133.1,662.1 141.8,662.1 150.6,641.7 159.3,640.5 168.0,637.7 176.8,629.7 185.5,651.7 194.2,648.4 202.9,687.3 211.7,686.6 220.4,683.3 229.1,692.5 237.9,676.6 246.6,718.2 255.3,758.1 264.0,774.3 272.8,786.7 281.5,794.2 290.2,796.7 299.0,799.2 307.7,799.2 316.4,799.2 325.1,796.7 333.9,793.0 342.6,789.5 351.3,734.4 360.0,730.7 368.8,696.5 377.5,717.0 386.2,737.4 395.0,743.9 403.7,733.2 412.4,734.9 421.1,690.3 429.9,680.8 438.6,721.9 447.3,674.6 456.1,616.0 464.8,624.0 473.5,643.4 482.2,619.8 491.0,621.8 499.7,641.0 508.4,644.2 517.2,629.7 525.9,604.1 534.6,629.0 543.3,616.0 552.1,623.5 560.8,607.3 569.5,632.2 578.2,672.1 587.0,710.2 595.7,684.6 604.4,665.1 613.2,665.1 621.9,648.4 630.6,656.4 639.3,648.9 648.1,645.2 656.8,637.7 665.5,588.6 674.3,607.3 683.0,621.0 691.7,616.0 700.4,612.3 709.2,588.1 717.9,641.0 726.6,638.0 735.4,622.3 744.1,607.3 752.8,611.8 761.5,629.7 770.3,644.2 779.0,662.1 787.7,652.2 796.4,684.6 805.2,670.9 813.9,658.9 822.6,637.7 831.4,641.7 840.1,652.7 848.8,660.9 857.5,649.7 866.3,617.3 875.0,586.9 883.7,599.3 892.5,650.4 901.2,629.0 909.9,665.4 918.6,667.1 927.4,659.6 936.1,680.8 944.8,707.0 953.6,702.8 962.3,701.0 971.0,701.0 979.7,690.8 988.5,692.5 997.2,707.5 1005.9,695.3 1014.6,682.8 1023.4,647.9 1032.1,626.8 1040.8,651.7 1049.6,644.2 1058.3,606.1 1067.0,608.1 1075.7,623.0 1084.5,619.3 1093.2,670.4 1101.9,660.9 1110.7,653.9 1119.4,645.9 1128.1,659.6 1136.8,643.4 1145.6,611.1 1154.3,632.2 1163.0,621.5 1171.8,614.3 1180.5,605.3 1189.2,621.0 1197.9,658.9 1206.7,642.2 1215.4,641.7 1224.1,665.9 1232.8,690.0 1241.6,690.0 1250.3,630.5 1259.0,575.5 1267.8,558.8 1276.5,560.5 1285.2,559.3 1293.9,599.3 1302.7,624.1 1311.4,648.5 1320.1,633.9 1328.9,619.6 1337.6,615.4" fill="none" stroke="#7e57c2" stroke-width="1.6" stroke-linejoin="round"/>
<rect x="0" y="558" width="369" height="30" fill="rgba(255,255,255,0.55)"/>
<text x="9" y="576.7" font-size="19.3" fill="#4a4a4f" textLength="183" lengthAdjust="spacingAndGlyphs">RSI 14 close SMA 14 2</text>
<text x="215" y="576.7" font-size="19.3" fill="#7e57c2" textLength="46.7" lengthAdjust="spacingAndGlyphs">58.05</text>
<text x="271.9" y="576.7" font-size="19.3" fill="#ffeb3b" textLength="46.2" lengthAdjust="spacingAndGlyphs">57.21</text>
<text x="329.6" y="576.7" font-size="19" fill="#2a2e39" font-style="italic" textLength="11.4" lengthAdjust="spacingAndGlyphs">Ø</text>
<text x="351.8" y="576.7" font-size="19" fill="#2a2e39" font-style="italic" textLength="11.4" lengthAdjust="spacingAndGlyphs">Ø</text>
</g>
<g clip-path="url(#cMacd)">
<line x1="37.5" y1="769" x2="37.5" y2="883" stroke="#e6e6e6" stroke-width="1"/>
<line x1="194.5" y1="769" x2="194.5" y2="883" stroke="#e6e6e6" stroke-width="1"/>
<line x1="325.5" y1="769" x2="325.5" y2="883" stroke="#e6e6e6" stroke-width="1"/>
<line x1="456.5" y1="769" x2="456.5" y2="883" stroke="#e6e6e6" stroke-width="1"/>
<line x1="586.5" y1="769" x2="586.5" y2="883" stroke="#e6e6e6" stroke-width="1"/>
<line x1="717.5" y1="769" x2="717.5" y2="883" stroke="#e6e6e6" stroke-width="1"/>
<line x1="848.5" y1="769" x2="848.5" y2="883" stroke="#e6e6e6" stroke-width="1"/>
<line x1="979.5" y1="769" x2="979.5" y2="883" stroke="#e6e6e6" stroke-width="1"/>
<line x1="1110.5" y1="769" x2="1110.5" y2="883" stroke="#e6e6e6" stroke-width="1"/>
<line x1="1232.5" y1="769" x2="1232.5" y2="883" stroke="#e6e6e6" stroke-width="1"/>
<line x1="1372.5" y1="769" x2="1372.5" y2="883" stroke="#e6e6e6" stroke-width="1"/>
<line x1="1503.5" y1="769" x2="1503.5" y2="883" stroke="#e6e6e6" stroke-width="1"/>
<line x1="1634.5" y1="769" x2="1634.5" y2="883" stroke="#e6e6e6" stroke-width="1"/>
<line x1="0" y1="815.5" x2="1651" y2="815.5" stroke="#9598a1" stroke-width="1" stroke-dasharray="6 5"/>
<rect x="-1.6" y="809.2" width="7.6" height="6.3" fill="#26a69a"/>
<rect x="7.1" y="805.9" width="7.6" height="9.6" fill="#26a69a"/>
<rect x="15.9" y="805.9" width="7.6" height="9.6" fill="#b2dfdb"/>
<rect x="24.6" y="805.9" width="7.6" height="9.6" fill="#26a69a"/>
<rect x="33.3" y="804.1" width="7.6" height="11.4" fill="#26a69a"/>
<rect x="42.0" y="800.9" width="7.6" height="14.6" fill="#26a69a"/>
<rect x="50.8" y="800.9" width="7.6" height="14.6" fill="#26a69a"/>
<rect x="59.5" y="800.0" width="7.6" height="15.5" fill="#26a69a"/>
<rect x="68.2" y="800.0" width="7.6" height="15.5" fill="#b2dfdb"/>
<rect x="77.0" y="803.0" width="7.6" height="12.5" fill="#b2dfdb"/>
<rect x="85.7" y="805.0" width="7.6" height="10.5" fill="#b2dfdb"/>
<rect x="94.4" y="806.8" width="7.6" height="8.7" fill="#b2dfdb"/>
<rect x="103.1" y="812.0" width="7.6" height="3.5" fill="#b2dfdb"/>
<rect x="111.9" y="814.0" width="7.6" height="1.5" fill="#b2dfdb"/>
<rect x="120.6" y="814.0" width="7.6" height="1.5" fill="#26a69a"/>
<rect x="129.3" y="810.9" width="7.6" height="4.6" fill="#26a69a"/>
<rect x="138.0" y="810.0" width="7.6" height="5.5" fill="#26a69a"/>
<rect x="146.8" y="806.8" width="7.6" height="8.7" fill="#26a69a"/>
<rect x="155.5" y="805.9" width="7.6" height="9.6" fill="#26a69a"/>
<rect x="164.2" y="805.0" width="7.6" height="10.5" fill="#26a69a"/>
<rect x="173.0" y="804.1" width="7.6" height="11.4" fill="#26a69a"/>
<rect x="181.7" y="805.9" width="7.6" height="9.6" fill="#b2dfdb"/>
<rect x="190.4" y="806.8" width="7.6" height="8.7" fill="#b2dfdb"/>
<rect x="199.1" y="809.8" width="7.6" height="5.7" fill="#b2dfdb"/>
<rect x="207.9" y="813.0" width="7.6" height="2.5" fill="#b2dfdb"/>
<rect x="216.6" y="814.0" width="7.6" height="1.5" fill="#b2dfdb"/>
<rect x="225.3" y="815.5" width="7.6" height="1.0" fill="#ff5252"/>
<rect x="234.1" y="815.5" width="7.6" height="1.0" fill="#ffcdd2"/>
<rect x="242.8" y="815.5" width="7.6" height="3.3" fill="#ff5252"/>
<rect x="251.5" y="815.5" width="7.6" height="9.2" fill="#ff5252"/>
<rect x="260.2" y="815.5" width="7.6" height="14.0" fill="#ff5252"/>
<rect x="269.0" y="815.5" width="7.6" height="24.2" fill="#ff5252"/>
<rect x="277.7" y="815.5" width="7.6" height="30.4" fill="#ff5252"/>
<rect x="286.4" y="815.5" width="7.6" height="32.2" fill="#ff5252"/>
<rect x="295.2" y="815.5" width="7.6" height="30.1" fill="#ffcdd2"/>
<rect x="303.9" y="815.5" width="7.6" height="26.3" fill="#ffcdd2"/>
<rect x="312.6" y="815.5" width="7.6" height="22.2" fill="#ffcdd2"/>
<rect x="321.3" y="815.5" width="7.6" height="19.2" fill="#ffcdd2"/>
<rect x="330.1" y="815.5" width="7.6" height="16.3" fill="#ffcdd2"/>
<rect x="338.8" y="815.5" width="7.6" height="13.3" fill="#ffcdd2"/>
<rect x="347.5" y="815.5" width="7.6" height="7.1" fill="#ffcdd2"/>
<rect x="356.2" y="815.5" width="7.6" height="2.3" fill="#ffcdd2"/>
<rect x="365.0" y="810.9" width="7.6" height="4.6" fill="#26a69a"/>
<rect x="373.7" y="809.2" width="7.6" height="6.3" fill="#26a69a"/>
<rect x="382.4" y="810.0" width="7.6" height="5.5" fill="#b2dfdb"/>
<rect x="391.2" y="810.9" width="7.6" height="4.6" fill="#b2dfdb"/>
<rect x="399.9" y="810.0" width="7.6" height="5.5" fill="#26a69a"/>
<rect x="408.6" y="810.0" width="7.6" height="5.5" fill="#26a69a"/>
<rect x="417.3" y="806.8" width="7.6" height="8.7" fill="#26a69a"/>
<rect x="426.1" y="804.1" width="7.6" height="11.4" fill="#26a69a"/>
<rect x="434.8" y="805.9" width="7.6" height="9.6" fill="#b2dfdb"/>
<rect x="443.5" y="804.1" width="7.6" height="11.4" fill="#26a69a"/>
<rect x="452.3" y="795.9" width="7.6" height="19.6" fill="#26a69a"/>
<rect x="461.0" y="793.1" width="7.6" height="22.4" fill="#26a69a"/>
<rect x="469.7" y="793.1" width="7.6" height="22.4" fill="#b2dfdb"/>
<rect x="478.4" y="791.1" width="7.6" height="24.4" fill="#26a69a"/>
<rect x="487.2" y="791.1" width="7.6" height="24.4" fill="#26a69a"/>
<rect x="495.9" y="794.1" width="7.6" height="21.4" fill="#b2dfdb"/>
<rect x="504.6" y="797.0" width="7.6" height="18.5" fill="#b2dfdb"/>
<rect x="513.4" y="797.9" width="7.6" height="17.6" fill="#b2dfdb"/>
<rect x="522.1" y="797.0" width="7.6" height="18.5" fill="#26a69a"/>
<rect x="530.8" y="799.3" width="7.6" height="16.2" fill="#b2dfdb"/>
<rect x="539.5" y="800.0" width="7.6" height="15.5" fill="#b2dfdb"/>
<rect x="548.3" y="801.1" width="7.6" height="14.4" fill="#b2dfdb"/>
<rect x="557.0" y="801.1" width="7.6" height="14.4" fill="#26a69a"/>
<rect x="565.7" y="804.8" width="7.6" height="10.7" fill="#b2dfdb"/>
<rect x="574.4" y="810.9" width="7.6" height="4.6" fill="#b2dfdb"/>
<rect x="583.2" y="815.5" width="7.6" height="6.0" fill="#ff5252"/>
<rect x="591.9" y="815.5" width="7.6" height="9.2" fill="#ff5252"/>
<rect x="600.6" y="815.5" width="7.6" height="8.2" fill="#ffcdd2"/>
<rect x="609.4" y="815.5" width="7.6" height="8.2" fill="#ffcdd2"/>
<rect x="618.1" y="815.5" width="7.6" height="5.3" fill="#ffcdd2"/>
<rect x="626.8" y="815.5" width="7.6" height="4.1" fill="#ffcdd2"/>
<rect x="635.5" y="815.5" width="7.6" height="2.0" fill="#ffcdd2"/>
<rect x="644.3" y="815.5" width="7.6" height="1.3" fill="#ffcdd2"/>
<rect x="653.0" y="814.1" width="7.6" height="1.4" fill="#26a69a"/>
<rect x="661.7" y="807.1" width="7.6" height="8.4" fill="#26a69a"/>
<rect x="670.5" y="804.1" width="7.6" height="11.4" fill="#26a69a"/>
<rect x="679.2" y="805.0" width="7.6" height="10.5" fill="#b2dfdb"/>
<rect x="687.9" y="805.0" width="7.6" height="10.5" fill="#b2dfdb"/>
<rect x="696.6" y="805.0" width="7.6" height="10.5" fill="#b2dfdb"/>
<rect x="705.4" y="803.0" width="7.6" height="12.5" fill="#26a69a"/>
<rect x="714.1" y="807.9" width="7.6" height="7.6" fill="#b2dfdb"/>
<rect x="722.8" y="810.0" width="7.6" height="5.5" fill="#b2dfdb"/>
<rect x="731.6" y="810.9" width="7.6" height="4.6" fill="#b2dfdb"/>
<rect x="740.3" y="810.0" width="7.6" height="5.5" fill="#26a69a"/>
<rect x="749.0" y="810.0" width="7.6" height="5.5" fill="#b2dfdb"/>
<rect x="757.7" y="812.0" width="7.6" height="3.5" fill="#b2dfdb"/>
<rect x="766.5" y="815.1" width="7.6" height="1.0" fill="#b2dfdb"/>
<rect x="775.2" y="815.5" width="7.6" height="4.4" fill="#ff5252"/>
<rect x="783.9" y="815.5" width="7.6" height="5.3" fill="#ff5252"/>
<rect x="792.6" y="815.5" width="7.6" height="10.1" fill="#ff5252"/>
<rect x="801.4" y="815.5" width="7.6" height="11.2" fill="#ff5252"/>
<rect x="810.1" y="815.5" width="7.6" height="10.1" fill="#ffcdd2"/>
<rect x="818.8" y="815.5" width="7.6" height="7.1" fill="#ffcdd2"/>
<rect x="827.6" y="815.5" width="7.6" height="5.3" fill="#ffcdd2"/>
<rect x="836.3" y="815.5" width="7.6" height="5.3" fill="#ffcdd2"/>
<rect x="845.0" y="815.5" width="7.6" height="5.3" fill="#ff5252"/>
<rect x="853.7" y="815.5" width="7.6" height="4.4" fill="#ffcdd2"/>
<rect x="862.5" y="815.5" width="7.6" height="1.0" fill="#ffcdd2"/>
<rect x="871.2" y="809.2" width="7.6" height="6.3" fill="#26a69a"/>
<rect x="879.9" y="807.1" width="7.6" height="8.4" fill="#26a69a"/>
<rect x="888.7" y="810.9" width="7.6" height="4.6" fill="#b2dfdb"/>
<rect x="897.4" y="810.9" width="7.6" height="4.6" fill="#b2dfdb"/>
<rect x="906.1" y="815.5" width="7.6" height="1.0" fill="#ff5252"/>
<rect x="914.8" y="815.5" width="7.6" height="4.4" fill="#ff5252"/>
<rect x="923.6" y="815.5" width="7.6" height="5.3" fill="#ff5252"/>
<rect x="932.3" y="815.5" width="7.6" height="7.4" fill="#ff5252"/>
<rect x="941.0" y="815.5" width="7.6" height="13.3" fill="#ff5252"/>
<rect x="949.8" y="815.5" width="7.6" height="15.3" fill="#ff5252"/>
<rect x="958.5" y="815.5" width="7.6" height="15.3" fill="#ff5252"/>
<rect x="967.2" y="815.5" width="7.6" height="15.1" fill="#ffcdd2"/>
<rect x="975.9" y="815.5" width="7.6" height="13.3" fill="#ffcdd2"/>
<rect x="984.7" y="815.5" width="7.6" height="11.2" fill="#ffcdd2"/>
<rect x="993.4" y="815.5" width="7.6" height="11.2" fill="#ffcdd2"/>
<rect x="1002.1" y="815.5" width="7.6" height="9.2" fill="#ffcdd2"/>
<rect x="1010.8" y="815.5" width="7.6" height="7.1" fill="#ffcdd2"/>
<rect x="1019.6" y="815.5" width="7.6" height="2.3" fill="#ffcdd2"/>
<rect x="1028.3" y="812.0" width="7.6" height="3.5" fill="#26a69a"/>
<rect x="1037.0" y="810.9" width="7.6" height="4.6" fill="#26a69a"/>
<rect x="1045.8" y="809.2" width="7.6" height="6.3" fill="#26a69a"/>
<rect x="1054.5" y="805.0" width="7.6" height="10.5" fill="#26a69a"/>
<rect x="1063.2" y="803.0" width="7.6" height="12.5" fill="#26a69a"/>
<rect x="1071.9" y="803.0" width="7.6" height="12.5" fill="#b2dfdb"/>
<rect x="1080.7" y="804.8" width="7.6" height="10.7" fill="#b2dfdb"/>
<rect x="1089.4" y="809.2" width="7.6" height="6.3" fill="#b2dfdb"/>
<rect x="1098.1" y="810.9" width="7.6" height="4.6" fill="#b2dfdb"/>
<rect x="1106.9" y="813.0" width="7.6" height="2.5" fill="#b2dfdb"/>
<rect x="1115.6" y="813.0" width="7.6" height="2.5" fill="#b2dfdb"/>
<rect x="1124.3" y="814.0" width="7.6" height="1.5" fill="#b2dfdb"/>
<rect x="1133.0" y="814.0" width="7.6" height="1.5" fill="#26a69a"/>
<rect x="1141.8" y="810.9" width="7.6" height="4.6" fill="#26a69a"/>
<rect x="1150.5" y="810.9" width="7.6" height="4.6" fill="#26a69a"/>
<rect x="1159.2" y="810.0" width="7.6" height="5.5" fill="#26a69a"/>
<rect x="1168.0" y="808.9" width="7.6" height="6.6" fill="#26a69a"/>
<rect x="1176.7" y="807.9" width="7.6" height="7.6" fill="#26a69a"/>
<rect x="1185.4" y="808.9" width="7.6" height="6.6" fill="#b2dfdb"/>
<rect x="1194.1" y="813.0" width="7.6" height="2.5" fill="#b2dfdb"/>
<rect x="1202.9" y="814.0" width="7.6" height="1.5" fill="#b2dfdb"/>
<rect x="1211.6" y="815.1" width="7.6" height="1.0" fill="#b2dfdb"/>
<rect x="1220.3" y="815.5" width="7.6" height="2.0" fill="#ff5252"/>
<rect x="1229.0" y="815.5" width="7.6" height="6.0" fill="#ff5252"/>
<rect x="1237.8" y="815.5" width="7.6" height="8.2" fill="#ff5252"/>
<rect x="1246.5" y="815.5" width="7.6" height="5.0" fill="#ffcdd2"/>
<rect x="1255.2" y="810.9" width="7.6" height="4.6" fill="#26a69a"/>
<rect x="1264.0" y="802.0" width="7.6" height="13.5" fill="#26a69a"/>
<rect x="1272.7" y="797.9" width="7.6" height="17.6" fill="#26a69a"/>
<rect x="1281.4" y="795.9" width="7.6" height="19.6" fill="#26a69a"/>
<rect x="1290.1" y="799.0" width="7.6" height="16.5" fill="#b2dfdb"/>
<rect x="1298.9" y="804.1" width="7.6" height="11.4" fill="#b2dfdb"/>
<rect x="1307.6" y="810.0" width="7.6" height="5.5" fill="#b2dfdb"/>
<rect x="1316.3" y="813.0" width="7.6" height="2.5" fill="#b2dfdb"/>
<rect x="1325.1" y="814.0" width="7.6" height="1.5" fill="#b2dfdb"/>
<rect x="1333.8" y="814.0" width="7.6" height="1.5" fill="#b2dfdb"/>
<polyline points="0.0,870.6 11.0,863.5 18.5,862.1 34.3,854.1 41.1,850.0 61.0,840.2 71.3,835.6 97.4,835.6 104.2,838.4 112.5,841.1 123.4,840.2 131.7,837.3 141.3,834.3 155.0,827.4 164.6,823.3 176.9,819.2 193.4,817.1 209.8,821.2 226.3,823.3 230.0,823.7 236.9,824.2 245.1,828.1 254.0,836.3 262.9,844.5 271.1,858.3 280.7,873.3 289.0,882.3 298.6,891.2 312.3,896.7 326.0,898.7 339.7,896.7 353.4,891.2 363.7,882.9 368.5,878.8 376.7,875.8 394.6,875.4 411.0,872.7 428.9,861.0 438.5,861.4 446.7,856.2 454.9,844.5 463.1,835.6 464.1,834.9 470.0,831.5 473.0,829.5 482.6,821.2 491.5,815.5 499.8,813.3 508.0,811.9 516.2,809.2 525.8,802.7 534.1,800.9 542.3,797.9 550.5,796.3 560.8,792.7 568.3,793.1 577.9,799.0 586.2,809.6 595.1,815.7 604.0,817.1 612.2,818.1 620.5,816.8 630.1,816.4 638.3,815.1 647.9,814.0 656.1,811.6 665.0,802.0 673.9,797.2 683.5,794.5 699.6,790.8 700.0,790.4 708.5,785.6 717.4,788.0 726.3,790.0 735.3,789.4 743.5,786.5 752.4,785.6 761.3,786.9 769.5,789.7 777.8,794.5 786.7,797.5 795.6,804.1 805.2,808.2 813.4,809.2 823.0,807.8 829.9,807.5 838.1,808.5 849.1,810.3 856.6,810.3 865.5,806.1 874.5,797.9 883.4,794.2 891.6,797.0 899.8,796.3 908.1,800.0 917.7,804.4 925.9,806.8 926.9,806.8 930.0,808.9 933.7,810.9 940.6,817.1 947.4,822.6 955.7,827.4 963.9,831.2 972.1,833.2 980.3,834.3 987.2,834.9 996.8,837.4 1005.0,838.0 1014.6,837.0 1022.9,832.2 1032.5,826.7 1040.7,824.2 1048.9,821.5 1055.8,815.7 1065.4,809.8 1073.6,806.8 1083.2,804.8 1091.4,807.5 1101.0,808.9 1109.3,809.8 1117.5,809.8 1125.7,810.5 1135.3,810.5 1144.9,806.1 1153.1,805.2 1158.2,803.8 1160.0,803.8 1166.5,801.6 1174.7,799.3 1180.2,797.9 1188.4,797.2 1197.3,800.4 1204.9,801.3 1214.5,802.0 1222.7,804.8 1232.3,810.3 1241.2,814.4 1249.4,812.6 1258.3,801.3 1267.3,790.4 1276.2,781.5 1285.1,774.6 1293.3,773.6 1301.5,775.7 1310.5,780.8 1318.7,783.5 1328.3,783.8 1337.2,783.5" fill="none" stroke="#2962ff" stroke-width="2" stroke-linejoin="round"/>
<polyline points="0.0,875.8 13.7,871.3 36.3,865.8 54.9,858.3 71.3,851.1 90.5,844.5 104.2,842.9 123.4,842.1 141.3,839.7 164.6,832.9 178.3,828.8 194.7,825.3 209.8,823.7 226.3,823.7 230.0,823.7 243.7,825.3 254.7,828.1 264.3,832.2 273.9,839.1 284.9,847.3 298.6,858.3 312.3,867.2 326.0,874.7 342.5,882.9 356.9,885.7 371.3,882.9 394.6,879.5 415.1,876.1 428.9,872.0 446.7,867.2 457.7,861.0 470.0,853.5 473.7,849.3 487.4,839.7 501.1,831.5 514.9,824.0 528.6,817.8 542.3,812.3 556.0,806.8 568.3,803.7 577.9,802.7 586.2,804.5 597.1,807.5 610.9,810.7 624.6,812.6 638.3,813.0 652.0,813.0 658.9,812.3 665.7,810.3 673.9,807.8 684.9,804.1 699.6,800.9 700.0,800.4 708.5,797.5 717.4,795.4 726.3,794.1 735.3,792.8 743.5,791.5 752.4,790.1 761.3,789.4 769.5,789.7 777.8,790.8 786.7,792.4 795.6,795.2 805.2,797.9 813.4,800.2 823.0,801.8 832.6,803.0 840.9,804.4 849.1,805.5 856.6,806.1 865.5,805.7 874.5,803.8 883.4,802.0 891.6,801.1 899.8,800.4 908.1,800.4 917.7,801.3 925.9,802.3 928.2,802.3 930.0,803.4 936.5,804.8 944.7,808.2 954.3,812.3 963.9,816.4 974.9,820.5 984.5,824.0 994.1,827.4 1005.0,830.1 1016.0,831.5 1024.2,831.2 1033.8,830.1 1043.4,828.8 1051.7,827.0 1059.9,824.2 1068.1,821.0 1076.3,818.1 1084.6,815.7 1092.8,814.4 1101.0,813.3 1112.0,812.6 1123.0,812.0 1133.9,811.4 1144.9,810.7 1153.1,809.6 1158.2,808.2 1160.0,808.6 1166.5,806.8 1174.7,805.5 1182.9,803.8 1191.1,802.7 1199.4,802.0 1209.0,802.0 1218.6,802.7 1226.8,804.4 1235.0,806.1 1246.0,807.5 1254.2,807.5 1259.7,806.1 1267.9,802.7 1276.2,798.6 1284.4,794.5 1292.6,790.4 1302.2,786.9 1311.8,785.6 1320.1,785.2 1328.3,784.9 1337.2,784.9" fill="none" stroke="#ff6d00" stroke-width="2" stroke-linejoin="round"/>
<rect x="0" y="777" width="508" height="32" fill="rgba(255,255,255,0.55)"/>
<text x="9" y="798.8" font-size="18.8" fill="#4a4a4f" textLength="249.5" lengthAdjust="spacingAndGlyphs">MACD 12 26 close 9 EMA EMA</text>
<text x="280.5" y="798.8" font-size="18.8" fill="#b2dfdb" textLength="67.5" lengthAdjust="spacingAndGlyphs">0.00006</text>
<text x="357.8" y="798.8" font-size="18.8" fill="#2962ff" textLength="67.5" lengthAdjust="spacingAndGlyphs">0.00167</text>
<text x="435" y="798.8" font-size="18.8" fill="#ff6d00" textLength="67.5" lengthAdjust="spacingAndGlyphs">0.00162</text>
</g>
<g fill="#131722" stroke="#fff" stroke-width="5.5" stroke-linejoin="round" paint-order="stroke"><path d="M13.1,841.8 H30.8 V863.7 H22.1 V849.8 H13.1 Z"/><circle cx="38.4" cy="846" r="4.35"/><path d="M47.5,841.8 H57.3 L48.9,863.7 H39.2 Z"/><text x="69.1" y="863.4" font-size="29.5" font-weight="bold" textLength="179.8" lengthAdjust="spacingAndGlyphs" stroke-width="5">TradingView</text></g>
<rect x="1651" y="0" width="99" height="883" fill="#fff"/>
<line x1="1651.5" y1="0" x2="1651.5" y2="883" stroke="#50535e" stroke-width="1"/>
<rect x="0" y="544" width="1750" height="2" fill="#e0e3eb"/>
<rect x="0" y="767" width="1750" height="1" fill="#e0e3eb"/>
<text x="1666.3" y="80.1" font-size="18" fill="#434651" textLength="62.4" lengthAdjust="spacingAndGlyphs">0.68500</text>
<text x="1666.3" y="173.1" font-size="18" fill="#434651" textLength="62.4" lengthAdjust="spacingAndGlyphs">0.68000</text>
<text x="1666.3" y="359.1" font-size="18" fill="#434651" textLength="62.4" lengthAdjust="spacingAndGlyphs">0.67000</text>
<text x="1666.3" y="452.6" font-size="18" fill="#434651" textLength="62.4" lengthAdjust="spacingAndGlyphs">0.66500</text>
<text x="1666.3" y="545.1" font-size="18" fill="#434651" textLength="62.4" lengthAdjust="spacingAndGlyphs">0.66000</text>
<text x="1666.3" y="564.1" font-size="18" fill="#434651" textLength="44.1" lengthAdjust="spacingAndGlyphs">70.00</text>
<text x="1666.3" y="613.1" font-size="18" fill="#434651" textLength="44.1" lengthAdjust="spacingAndGlyphs">60.00</text>
<text x="1666.3" y="663.1" font-size="18" fill="#434651" textLength="44.1" lengthAdjust="spacingAndGlyphs">50.00</text>
<text x="1666.3" y="712.6" font-size="18" fill="#434651" textLength="44.1" lengthAdjust="spacingAndGlyphs">40.00</text>
<text x="1666.3" y="761.1" font-size="18" fill="#434651" textLength="44.1" lengthAdjust="spacingAndGlyphs">30.00</text>
<path d="M1651,69 H1736 Q1740,69 1740,73 V92 Q1740,96 1736,96 H1651 Z" fill="#2962ff"/>
<text x="1666.5" y="88.8" font-size="17.3" fill="#fff" font-weight="bold">0.68451</text>
<path d="M1651,177 H1736 Q1740,177 1740,181 V199.7 Q1740,203.7 1736,203.7 H1651 Z" fill="#2962ff"/>
<text x="1666.5" y="196.7" font-size="17.3" fill="#fff" font-weight="bold">0.67873</text>
<path d="M1651,237.3 H1741.5 Q1745.5,237.3 1745.5,241.3 V280.7 Q1745.5,284.7 1741.5,284.7 H1651 Z" fill="#6a9f80"/>
<text x="1666.5" y="257.3" font-size="17.3" fill="#fff" font-weight="bold">0.67548</text>
<text x="1666.5" y="277.8" font-size="17.3" fill="#d8e8dc" font-weight="bold">01:57:52</text>
<path d="M1651,294.1 H1736 Q1740,294.1 1740,298.1 V316.8 Q1740,320.8 1736,320.8 H1651 Z" fill="#2962ff"/>
<text x="1666.5" y="313.8" font-size="17.3" fill="#fff" font-weight="bold">0.67244</text>
<path d="M1651,413.4 H1736 Q1740,413.4 1740,417.4 V435 Q1740,439 1736,439 H1651 Z" fill="#2962ff"/>
<text x="1666.5" y="432.5" font-size="17.3" fill="#fff" font-weight="bold">0.66602</text>
<path d="M1651,603.3 H1716 Q1720,603.3 1720,607.3 V624.9 Q1720,628.9 1716,628.9 H1651 Z" fill="#7e57c2"/>
<text x="1666.5" y="622.4" font-size="17.3" fill="#fff" font-weight="bold">58.05</text>
<path d="M1651,628.9 H1716 Q1720,628.9 1720,632.9 V651.4 Q1720,655.4 1716,655.4 H1651 Z" fill="#ffeb3b"/>
<text x="1666.5" y="648.4" font-size="17.3" fill="#131722" font-weight="normal">57.21</text>
<path d="M1651,768.5 H1736 Q1740,768.5 1740,772.5 V792 Q1740,796 1736,796 H1651 Z" fill="#2962ff"/>
<text x="1666.5" y="788.5" font-size="17.3" fill="#fff" font-weight="bold">0.00167</text>
<path d="M1651,772 H1736 Q1740,772 1740,776 V794.5 Q1740,798.5 1736,798.5 H1651 Z" fill="#ff6d00"/>
<text x="1666.5" y="791.5" font-size="17.3" fill="#fff" font-weight="bold">0.00162</text>
<path d="M1651,801.6 H1736 Q1740,801.6 1740,805.6 V823.6 Q1740,827.6 1736,827.6 H1651 Z" fill="#b2dfdb"/>
<text x="1666.5" y="820.9" font-size="17.3" fill="#131722" font-weight="normal">0.00006</text>
</svg></body></html>
